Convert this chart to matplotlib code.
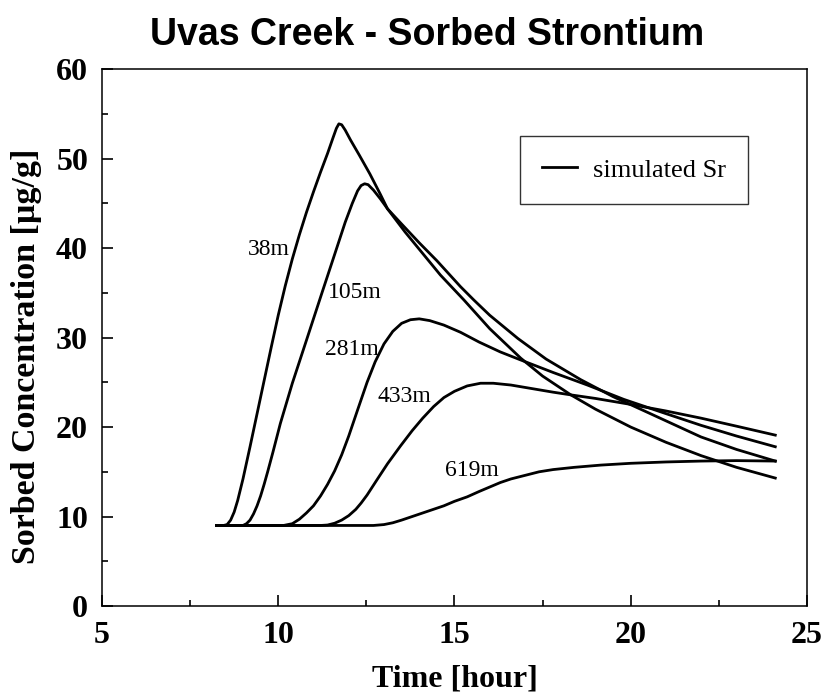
import matplotlib
matplotlib.use("Agg")
import matplotlib.pyplot as plt
from matplotlib.ticker import MultipleLocator

# (time in hours, sorbed Sr in ug/g)
t_38 = [8.25, 8.45, 8.55, 8.65, 8.75, 8.85, 9.0, 9.2, 9.4, 9.6, 9.8, 10.0, 10.2, 10.4,
        10.6, 10.8, 11.0, 11.2, 11.4, 11.55, 11.65, 11.72, 11.8, 11.9, 12.05, 12.3,
        12.6, 12.9, 13.1, 13.6, 14.1, 14.6, 15.27, 16.0, 16.88, 17.5, 18.3, 19.0,
        20.0, 21.0, 22.0, 23.0, 24.1]
c_38 = [9.0, 9.0, 9.1, 9.6, 10.5, 11.8, 14.2, 17.8, 21.5, 25.2, 28.9, 32.5, 35.8, 38.8,
        41.5, 44.0, 46.3, 48.5, 50.6, 52.3, 53.4, 53.9, 53.8, 53.2, 52.1, 50.4,
        48.3, 46.0, 44.4, 41.8, 39.4, 37.0, 34.2, 31.0, 27.7, 25.7, 23.6, 22.0,
        20.0, 18.3, 16.8, 15.5, 14.3]

t_105 = [8.25, 9.0, 9.1, 9.2, 9.3, 9.4, 9.5, 9.6, 9.7, 9.85, 10.06, 10.4, 10.8, 11.24,
         11.6, 11.9, 12.1, 12.25, 12.35, 12.45, 12.55, 12.7, 12.9, 13.1, 13.5, 14.0,
         14.5, 15.17, 15.55, 16.0, 16.8, 17.6, 18.58, 19.5, 20.5, 21.99, 23.0, 24.1]
c_105 = [9.0, 9.0, 9.2, 9.6, 10.3, 11.2, 12.3, 13.6, 15.0, 17.2, 20.4, 24.9, 29.7, 35.0,
         39.3, 42.9, 45.0, 46.4, 47.0, 47.2, 47.1, 46.5, 45.5, 44.4, 42.7, 40.6,
         38.6, 35.7, 34.2, 32.5, 29.9, 27.6, 25.3, 23.4, 21.6, 18.9, 17.5, 16.2]

t_281 = [8.25, 10.15, 10.4, 10.6, 10.8, 11.0, 11.2, 11.4, 11.6, 11.8, 12.0, 12.25,
         12.52, 12.75, 13.0, 13.25, 13.5, 13.75, 14.0, 14.3, 14.7, 15.17, 15.7, 16.3,
         16.88, 17.8, 18.77, 19.8, 21.0, 21.99, 23.0, 24.1]
c_281 = [9.0, 9.0, 9.2, 9.7, 10.4, 11.2, 12.3, 13.6, 15.1, 16.9, 19.0, 21.9,
         25.0, 27.3, 29.3, 30.7, 31.6, 32.0, 32.1, 31.9, 31.4, 30.6, 29.5, 28.4,
         27.5, 26.1, 24.7, 23.1, 21.5, 20.2, 19.0, 17.8]

t_433 = [8.25, 11.2, 11.4, 11.6, 11.8, 12.0, 12.2, 12.35, 12.52, 12.8, 13.1, 13.47, 13.8,
         14.1, 14.41, 14.7, 15.0, 15.36, 15.74, 16.1, 16.6, 17.2, 17.8, 18.3, 19.0,
         19.9, 21.0, 21.99, 23.0, 24.1]
c_433 = [9.0, 9.0, 9.05, 9.25, 9.6, 10.1, 10.8, 11.5, 12.4, 14.1, 15.9, 17.9, 19.6,
         21.0, 22.3, 23.3, 24.0, 24.6, 24.9, 24.9, 24.7, 24.3, 23.9, 23.6, 23.2,
         22.6, 21.8, 21.0, 20.1, 19.1]

t_619 = [8.25, 12.7, 13.0, 13.25, 13.5, 13.8, 14.1, 14.4, 14.7, 15.0, 15.36, 15.7,
         16.0, 16.3, 16.6, 17.0, 17.4, 17.8, 18.4, 19.15, 20.0, 21.0, 22.0, 23.0, 24.1]
c_619 = [9.0, 9.0, 9.1, 9.3, 9.6, 10.0, 10.4, 10.8, 11.2, 11.7, 12.2, 12.8,
         13.3, 13.8, 14.2, 14.6, 15.0, 15.25, 15.5, 15.75, 15.95, 16.1, 16.2, 16.25, 16.2]

labels = ["38m", "105m", "281m", "433m", "619m"]
label_x = [9.15, 11.42, 11.34, 12.81, 14.74]
label_y = [39.8, 35.1, 28.7, 23.4, 15.2]

serif = "Liberation Serif"

fig = plt.figure(figsize=(8.25, 6.97), dpi=100)
ax = fig.add_axes([0.1236, 0.1306, 0.8546, 0.77])

curves = [(t_38, c_38), (t_105, c_105), (t_281, c_281), (t_433, c_433), (t_619, c_619)]
for i, (t, c) in enumerate(curves):
    ax.plot(t, c, color="black", lw=2.0, label="simulated Sr" if i == 0 else None)

for lab, x, y in zip(labels, label_x, label_y):
    ax.text(x, y, lab, family=serif, fontsize=17, ha="left", va="center")

ax.set_xlim(5, 25)
ax.set_ylim(0, 60)
ax.xaxis.set_major_locator(MultipleLocator(5))
ax.xaxis.set_minor_locator(MultipleLocator(2.5))
ax.yaxis.set_major_locator(MultipleLocator(10))
ax.yaxis.set_minor_locator(MultipleLocator(5))
ax.tick_params(which="both", direction="in", top=False, right=False, width=1.2)
ax.tick_params(which="major", length=8)
ax.tick_params(axis="x", which="major", pad=11)
ax.tick_params(axis="y", which="major", pad=10)
ax.tick_params(which="minor", length=4.5)
for lbl in ax.get_xticklabels() + ax.get_yticklabels():
    lbl.set_family(serif)
    lbl.set_fontweight("bold")
    lbl.set_fontsize(23)
for sp in ax.spines.values():
    sp.set_linewidth(1.1)

ax.set_xlabel("Time [hour]", family=serif, fontweight="bold", fontsize=23, labelpad=10)
ax.set_ylabel("Sorbed Concentration [\u00b5g/g]", family=serif, fontweight="bold",
              fontsize=24.5)
ax.yaxis.set_label_coords(-0.085, 0.465)

fig.text(0.518, 0.936, "Uvas Creek - Sorbed Strontium", family="Liberation Sans",
         fontweight="bold", fontsize=27, ha="center", va="baseline")

leg = ax.legend(loc="upper left", bbox_to_anchor=(0.593, 0.876), borderaxespad=0,
                prop={"family": serif, "size": 19}, frameon=True, fancybox=False,
                handlelength=1.3, handletextpad=0.6, borderpad=0.85)
leg.get_frame().set_edgecolor("black")
leg.get_frame().set_linewidth(1.0)

fig.savefig("out.png", dpi=100)
